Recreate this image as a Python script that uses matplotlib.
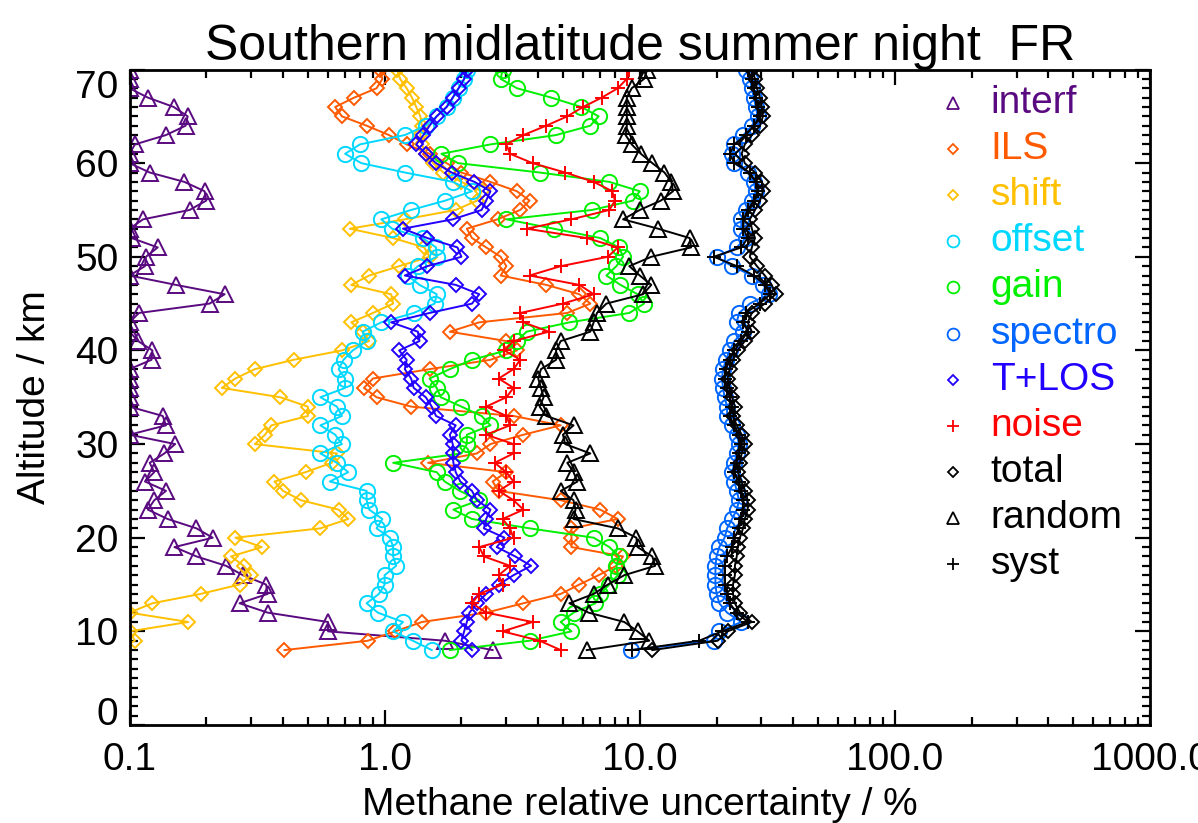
import numpy as np
import matplotlib
matplotlib.use("Agg")
import matplotlib.pyplot as plt
from matplotlib.ticker import MultipleLocator, LogLocator, FuncFormatter, NullFormatter

plt.rcParams['font.family'] = ['Liberation Sans', 'DejaVu Sans']

# altitude grid, top to bottom (km)
alt = np.arange(70, 7, -1)

# relative uncertainties in %, listed from 70 km down to 8 km
interf = [0.1, 0.1, 0.1, 0.118, 0.149, 0.169, 0.166, 0.139, 0.105, 0.1,
          0.1, 0.120, 0.164, 0.197, 0.200, 0.172, 0.113, 0.1, 0.102, 0.129,
          0.116, 0.115, 0.1, 0.152, 0.236, 0.206, 0.109, 0.1, 0.1, 0.108,
          0.123, 0.122, 0.1, 0.1, 0.1, 0.1, 0.1, 0.135, 0.139, 0.1,
          0.151, 0.137, 0.120, 0.125, 0.115, 0.139, 0.125, 0.118, 0.141, 0.183,
          0.212, 0.150, 0.183, 0.239, 0.278, 0.343, 0.348, 0.270, 0.348, 0.60,
          0.60, 1.72, 2.65]
ils = [0.955, 0.98, 0.93, 0.76, 0.64, 0.68, 0.85, 1.04, 1.22, 1.5,
       1.75, 2.0, 2.6, 3.3, 3.7, 3.4, 2.77, 2.1, 2.2, 2.5,
       2.85, 3.0, 2.85, 4.3, 5.8, 6.4, 5.2, 2.35, 1.8, 3.0,
       3.3, 2.6, 1.5, 0.9, 0.83, 0.93, 1.27, 3.2, 4.9, 3.5,
       2.6, 2.3, 1.48, 3.0, 2.65, 2.8, 4.9, 7.0, 8.2, 5.4,
       5.4, 5.4, 8.6, 8.1, 6.9, 5.8, 4.9, 3.5, 2.5, 1.4,
       1.1, 0.86, 0.405]
shift = [1.12, 1.15, 1.22, 1.28, 1.33, 1.38, 1.4, 1.38, 1.4, 1.45,
         1.55, 1.7, 2.0, 2.4, 2.3, 1.9, 1.2, 0.73, 1.08, 1.43,
         1.5, 1.14, 0.87, 0.74, 1.06, 1.08, 0.9, 0.74, 0.82, 0.87,
         0.68, 0.44, 0.31, 0.26, 0.23, 0.39, 0.5, 0.5, 0.36, 0.34,
         0.31, 0.65, 0.62, 0.49, 0.37, 0.4, 0.47, 0.66, 0.72, 0.56,
         0.26, 0.33, 0.25, 0.28, 0.3, 0.27, 0.19, 0.123, 0.1, 0.17,
         0.1, 0.105, 0.09]
offset = [2.1, 2.05, 1.95, 1.85, 1.75, 1.6, 1.45, 1.2, 0.8, 0.7,
          0.81, 1.2, 1.85, 2.2, 1.73, 1.27, 0.97, 1.07, 1.41, 1.59,
          1.6, 1.35, 1.23, 1.37, 1.6, 1.57, 1.3, 0.97, 0.82, 0.85,
          0.75, 0.69, 0.66, 0.7, 0.7, 0.56, 0.65, 0.68, 0.56, 0.64,
          0.68, 0.56, 0.65, 0.72, 0.61, 0.85, 0.85, 0.87, 0.98, 0.93,
          1.05, 1.08, 1.08, 1.11, 1.0, 1.0, 0.95, 0.85, 0.94, 1.18,
          1.08, 1.29, 1.53]
gain = [2.9, 2.85, 3.3, 4.5, 5.9, 6.9, 6.4, 4.7, 2.6, 1.67,
        1.94, 4.05, 7.6, 10.0, 9.4, 6.5, 3.0, 4.6, 7.0, 8.3,
        8.6, 8.1, 7.4, 8.4, 9.8, 10.4, 9.1, 5.3, 3.6, 3.3,
        3.0, 2.2, 1.8, 1.5, 1.6, 1.66, 2.0, 2.4, 2.6, 2.1,
        2.1, 2.0, 1.08, 1.6, 1.72, 1.97, 2.35, 1.86, 2.2, 3.7,
        6.6, 7.6, 8.3, 8.1, 8.2, 7.6, 7.0, 6.7, 5.5, 4.9,
        5.4, 3.7, 1.8]
spectro = [26, 27, 27.5, 28, 28.5, 29, 27.5, 25.5, 23.5, 23,
           23.5, 26.5, 28, 28.5, 27.5, 26, 25, 25, 26, 24,
           20, 23, 27.5, 30.5, 32, 27, 24.5, 24, 25.5, 23.5,
           22.5, 21.8, 21.2, 21, 21.2, 21.5, 22, 22, 23, 24,
           24.5, 24, 23.5, 23, 23.5, 24, 24.5, 24, 23, 22,
           21.5, 20.5, 20, 19.8, 19.8, 19.8, 20, 20.5, 22, 25,
           20.5, 19.5, 9.2]
tlos = [2.1, 2.05, 1.95, 1.85, 1.75, 1.6, 1.5, 1.42, 1.33, 1.45,
        1.59, 1.83, 2.25, 2.6, 2.5, 2.4, 1.85, 1.18, 1.47, 1.93,
        2.0, 1.47, 1.2, 1.9, 2.35, 2.2, 1.5, 1.06, 1.35, 1.37,
        1.14, 1.22, 1.2, 1.27, 1.3, 1.45, 1.53, 1.59, 1.9, 1.8,
        1.85, 1.85, 1.86, 1.9, 1.98, 2.2, 2.3, 2.6, 2.5, 2.45,
        2.95, 2.75, 3.25, 3.75, 3.2, 2.8, 2.5, 2.3, 2.15, 2.1,
        2.05, 2.0, 2.2]
noise = [9.1, 8.9, 8.2, 7.1, 6.0, 5.2, 4.3, 3.5, 3.0, 3.1,
         3.8, 5.1, 6.6, 7.8, 8.0, 7.6, 5.4, 3.6, 6.2, 8.2,
         7.5, 4.9, 3.7, 5.8, 6.6, 5.0, 3.4, 3.5, 4.4, 3.2,
         2.95, 3.4, 3.2, 2.8, 3.2, 3.0, 2.5, 3.0, 3.1, 2.5,
         3.2, 3.2, 2.7, 3.0, 3.2, 2.8, 3.2, 3.5, 2.9, 3.1,
         3.2, 2.35, 2.45, 3.1, 2.8, 2.9, 2.35, 2.2, 2.5, 3.8,
         2.9, 4.05, 4.9]
total = [27.5, 28.3, 28.8, 29.6, 30.1, 30.4, 29.6, 27.5, 25.8, 25.1,
         25.8, 28.3, 30.1, 30.4, 29.6, 28.3, 27.0, 27.5, 28.3, 27.5,
         27.0, 28.8, 30.9, 32.9, 34.1, 30.9, 27.5, 26.5, 27.5, 25.8,
         24.2, 23.2, 22.5, 22.1, 22.5, 23.0, 23.6, 23.2, 24.0, 25.1,
         25.8, 25.1, 24.7, 24.2, 25.1, 25.8, 26.5, 26.5, 25.8, 25.4,
         24.7, 24.2, 24.0, 23.6, 23.6, 23.2, 23.2, 23.6, 24.7, 27.5,
         22.1, 20.2, 11.2]
random = [10.7, 10.4, 9.3, 8.9, 8.9, 8.9, 8.9, 8.8, 9.3, 10.1,
          11.2, 12.5, 13.3, 13.5, 12.1, 10.0, 8.6, 11.8, 15.7, 15.9,
          11.1, 9.1, 10.0, 11.1, 10.3, 7.4, 6.8, 6.6, 6.4, 4.9,
          4.7, 4.7, 4.1, 4.0, 4.1, 4.2, 4.05, 4.3, 5.5, 5.0,
          5.1, 6.4, 5.2, 5.5, 5.7, 4.9, 5.5, 5.6, 5.5, 8.2,
          9.7, 9.8, 11.2, 11.5, 8.7, 7.5, 6.6, 5.3, 6.3, 8.7,
          9.8, 10.9, 6.2]
syst = [26.5, 27.5, 28, 28.5, 29, 29.5, 28, 26, 23.5, 22.5,
        23.5, 27, 28.5, 29, 28, 26.5, 25.5, 25.5, 26.5, 25,
        19.5, 24, 28, 31, 32.5, 29.5, 26, 25.5, 26.5, 25,
        23.5, 22.5, 21.8, 21.5, 22, 22.5, 23, 22.5, 23.5, 24.5,
        25, 24.5, 24, 23.5, 24.5, 25, 25.5, 25.5, 25, 24.5,
        23.5, 23, 22, 21.5, 21.5, 21.5, 22, 22.5, 24, 26.5,
        21, 17.1, 9.3]

labels = ['interf', 'ILS', 'shift', 'offset', 'gain', 'spectro',
          'T+LOS', 'noise', 'total', 'random', 'syst']
series = [interf, ils, shift, offset, gain, spectro, tlos, noise, total, random, syst]
colors = ['#5A0A80', '#FF5A00', '#FFC000', '#00D8FF', '#00F000', '#0066FF',
          '#2200FF', '#FF0000', 'black', 'black', 'black']
markers = ['^', 'D', 'D', 'o', 'o', 'o', 'D', '+', 'D', '^', '+']
msizes = {'^': 11.5, 'D': 7.5, 'o': 11, '+': 10}

fig = plt.figure(figsize=(11.98, 8.23), dpi=100)
ax = fig.add_axes([129.5 / 1198, 98 / 823, 1020.5 / 1198, 655.5 / 823])

for vals, col, mk in zip(series, colors, markers):
    ax.plot(vals, alt, color=col, lw=1.4, marker=mk, ms=msizes[mk],
            mfc='none', mec=col, mew=1.4)

ax.set_xscale('log')
ax.set_xlim(0.1, 1000)
ax.set_ylim(0, 70)
ax.xaxis.set_major_locator(LogLocator(base=10))
ax.xaxis.set_minor_locator(LogLocator(base=10, subs=np.arange(2, 10)))
ax.xaxis.set_major_formatter(FuncFormatter(lambda v, p: f'{v:.1f}'))
ax.xaxis.set_minor_formatter(NullFormatter())
ax.set_yticks(np.arange(0, 71, 10))
ax.yaxis.set_minor_locator(MultipleLocator(1))

ax.tick_params(which='both', direction='in', top=True, right=True, width=1.6,
               labelsize=28)
ax.tick_params(which='major', length=11)
ax.tick_params(which='minor', length=6)
ax.tick_params(axis='x', pad=12)
ax.tick_params(axis='y', pad=8)
for sp in ax.spines.values():
    sp.set_linewidth(2)

# end labels of the altitude axis kept inside the axis range
ylabs = ax.get_yticklabels()
ylabs[0].set_va('baseline')
ylabs[-1].set_va('top')

ax.set_title('Southern midlatitude summer night  FR', fontsize=36, pad=5)
ax.set_xlabel('Methane relative uncertainty / %', fontsize=28)
ax.set_ylabel('Altitude / km', fontsize=28)
ax.xaxis.set_label_coords(0.5, -0.095)
ax.yaxis.set_label_coords(-0.075, 0.5)

# legend: symbol + coloured label
leg_ms = {'^': 8, 'D': 5.5, 'o': 8.5, '+': 9}
for i, (lab, col, mk) in enumerate(zip(labels, colors, markers)):
    yy = (725 - (103 + i * 46.1)) / 655.5
    ax.plot([0.807], [yy], transform=ax.transAxes, marker=mk, ms=leg_ms[mk],
            mfc='none', mec=col, mew=1.3, ls='none', clip_on=False)
    ax.text(0.844, yy, lab, transform=ax.transAxes, color=col, fontsize=28,
            va='center', ha='left')

fig.savefig('out.png', dpi=100)
